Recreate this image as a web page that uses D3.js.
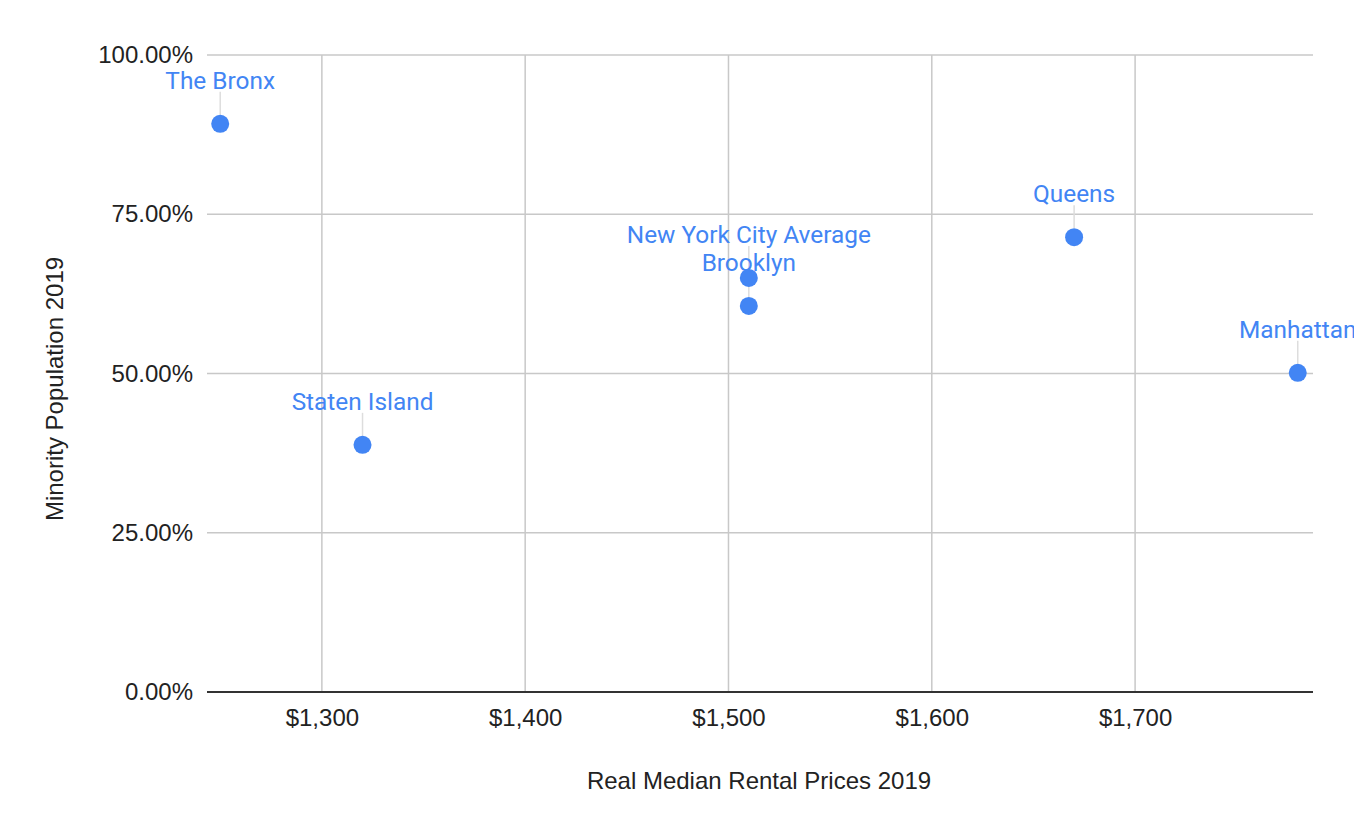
<!DOCTYPE html>
<html>
<head>
<meta charset="utf-8">
<script src="https://cdn.jsdelivr.net/npm/d3@7"></script>
<style>
  html, body { margin: 0; padding: 0; background: #fff; }
  svg { display: block; }
</style>
</head>
<body>
<div id="chart"></div>
<script>
// borough data
const boroughs = ["The Bronx", "Staten Island", "New York City Average", "Brooklyn", "Queens", "Manhattan"];
const rentPrices = [1250, 1320, 1510, 1510, 1670, 1780];
const minorityShare = [0.892, 0.388, 0.650, 0.606, 0.714, 0.501];

const xTicks = [1300, 1400, 1500, 1600, 1700];
const yTicks = [0, 0.25, 0.5, 0.75, 1];

const width = 1354, height = 838;
const margin = {top: 55, right: 41, bottom: 146, left: 207};

const svg = d3.select("#chart").append("svg")
    .attr("width", width)
    .attr("height", height);

const x = d3.scaleLinear()
    .domain([1243.5, 1787.5])
    .range([margin.left, width - margin.right]);

const y = d3.scaleLinear()
    .domain([0, 1])
    .range([height - margin.bottom, margin.top]);

const fmtMoney = d3.format("$,.0f");
const fmtPct = d3.format(".2%");
const axisFont = "'Liberation Sans', Arial, sans-serif";

// gridlines
const grid = svg.append("g").attr("class", "grid");
grid.selectAll(".vgrid")
    .data(xTicks)
    .join("line")
    .attr("x1", d => x(d)).attr("x2", d => x(d))
    .attr("y1", y(1)).attr("y2", y(0))
    .attr("stroke", "#c8c8c8")
    .attr("stroke-width", 1.5);

grid.selectAll(".hgrid")
    .data(yTicks.filter(d => d > 0))
    .join("line")
    .attr("x1", x.range()[0]).attr("x2", x.range()[1])
    .attr("y1", d => y(d)).attr("y2", d => y(d))
    .attr("stroke", "#c8c8c8")
    .attr("stroke-width", 1.5);

// baseline
svg.append("line")
    .attr("x1", x.range()[0]).attr("x2", x.range()[1])
    .attr("y1", y(0)).attr("y2", y(0))
    .attr("stroke", "#333333")
    .attr("stroke-width", 2);

// axes (text only, lines handled above)
const xAxis = svg.append("g")
    .attr("transform", `translate(0,${y(0)})`)
    .call(d3.axisBottom(x).tickValues(xTicks).tickFormat(fmtMoney).tickSize(0).tickPadding(17));
const yAxis = svg.append("g")
    .attr("transform", `translate(${margin.left},0)`)
    .call(d3.axisLeft(y).tickValues(yTicks).tickFormat(fmtPct).tickSize(0).tickPadding(14));

[xAxis, yAxis].forEach(a => {
    a.select(".domain").remove();
    a.selectAll("text")
        .attr("fill", "#222222")
        .style("font-family", axisFont)
        .style("font-size", "24px");
});

// axis titles
svg.append("text")
    .attr("x", 759)
    .attr("y", 789)
    .attr("text-anchor", "middle")
    .attr("fill", "#222222")
    .style("font-family", axisFont)
    .style("font-size", "24px")
    .text("Real Median Rental Prices 2019");

svg.append("text")
    .attr("transform", "translate(63,389) rotate(-90)")
    .attr("text-anchor", "middle")
    .attr("fill", "#222222")
    .style("font-family", axisFont)
    .style("font-size", "24px")
    .text("Minority Population 2019");

const points = boroughs.map((name, i) => ({name, rent: rentPrices[i], share: minorityShare[i]}));

// leader lines
svg.append("g").selectAll("line")
    .data(points)
    .join("line")
    .attr("x1", d => x(d.rent)).attr("x2", d => x(d.rent))
    .attr("y1", d => y(d.share) - 32)
    .attr("y2", d => y(d.share) - 9)
    .attr("stroke", "#dddddd")
    .attr("stroke-width", 1.5);

// dots
svg.append("g").selectAll("circle")
    .data(points)
    .join("circle")
    .attr("cx", d => x(d.rent))
    .attr("cy", d => y(d.share))
    .attr("r", 9)
    .attr("fill", "#4285f4");

// point labels
svg.append("g").selectAll("text")
    .data(points)
    .join("text")
    .attr("x", d => x(d.rent))
    .attr("y", d => y(d.share) - 35)
    .attr("text-anchor", "middle")
    .attr("fill", "#4285f4")
    .style("font-family", "Roboto, sans-serif")
    .style("font-size", "24.4px")
    .text(d => d.name);
</script>
</body>
</html>
